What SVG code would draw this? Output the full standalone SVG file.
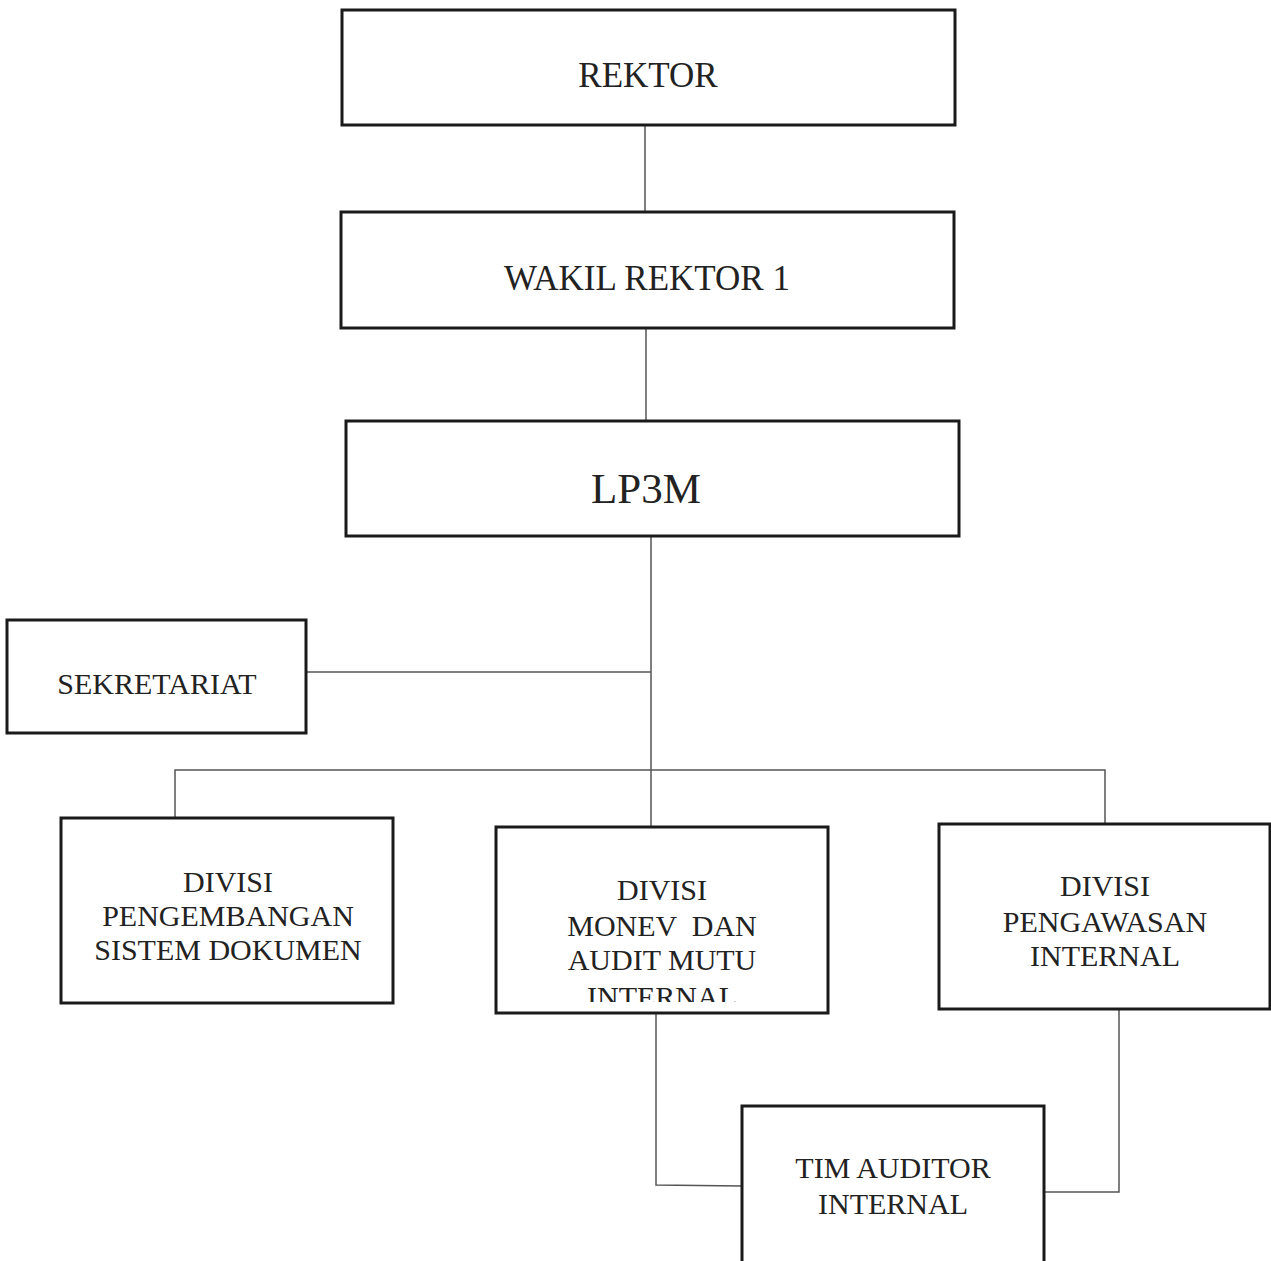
<svg xmlns="http://www.w3.org/2000/svg" width="1271" height="1261" viewBox="0 0 1271 1261">
<style>
.box{fill:#fff;stroke:#1a1a1a;stroke-width:3}
.t{font-family:"Liberation Serif","Times New Roman",serif;fill:#222;text-anchor:middle}
.c{fill:none;stroke:#555;stroke-width:1.5}
</style>
<defs>
<clipPath id="clipMonev"><rect x="498" y="829" width="328" height="173"/></clipPath>
</defs>
<rect width="1271" height="1261" fill="#fff"/>
<g id="connectors">
<line class="c" x1="645" y1="125" x2="645" y2="211"/>
<line class="c" x1="646" y1="328" x2="646" y2="420"/>
<line class="c" x1="651" y1="536" x2="651" y2="827"/>
<line class="c" x1="306" y1="672" x2="651" y2="672"/>
<polyline class="c" points="175,818 175,770 1105,770 1105,824"/>
<polyline class="c" points="656,1013 656,1185 742,1186"/>
<polyline class="c" points="1119,1009 1119,1192 1044,1192"/>
</g>
<g id="rektor">
<rect class="box" x="342" y="10" width="613" height="115"/>
<text class="t" x="648" y="87" font-size="35">REKTOR</text>
</g>
<g id="wakil-rektor-1">
<rect class="box" x="341" y="212" width="613" height="116"/>
<text class="t" x="647" y="290" font-size="35">WAKIL REKTOR 1</text>
</g>
<g id="lp3m">
<rect class="box" x="346" y="421" width="613" height="115"/>
<text class="t" x="646" y="503" font-size="43">LP3M</text>
</g>
<g id="sekretariat">
<rect class="box" x="7" y="620" width="299" height="113"/>
<text class="t" x="157" y="694" font-size="30">SEKRETARIAT</text>
</g>
<g id="divisi-pengembangan">
<rect class="box" x="61" y="818" width="332" height="185"/>
<text class="t" font-size="30"><tspan x="228" y="892">DIVISI</tspan><tspan x="228" y="926">PENGEMBANGAN</tspan><tspan x="228" y="960">SISTEM DOKUMEN</tspan></text>
</g>
<g id="divisi-monev">
<rect class="box" x="496" y="827" width="332" height="186"/>
<text class="t" font-size="30" clip-path="url(#clipMonev)" style="white-space:pre"><tspan x="662" y="900">DIVISI</tspan><tspan x="662" y="936">MONEV  DAN</tspan><tspan x="662" y="970">AUDIT MUTU</tspan><tspan x="662" y="1007">INTERNAL</tspan></text>
</g>
<g id="divisi-pengawasan">
<rect class="box" x="939" y="824" width="331" height="185"/>
<text class="t" font-size="30"><tspan x="1105" y="896">DIVISI</tspan><tspan x="1105" y="932">PENGAWASAN</tspan><tspan x="1105" y="966">INTERNAL</tspan></text>
</g>
<g id="tim-auditor">
<rect class="box" x="742" y="1106" width="302" height="160"/>
<text class="t" font-size="30"><tspan x="893" y="1178">TIM AUDITOR</tspan><tspan x="893" y="1214">INTERNAL</tspan></text>
</g>
</svg>
